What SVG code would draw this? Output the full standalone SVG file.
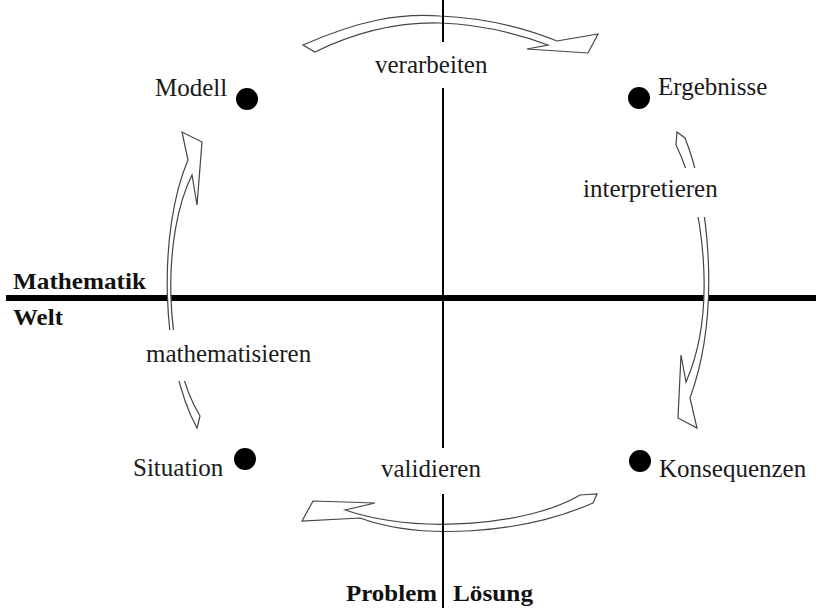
<svg xmlns="http://www.w3.org/2000/svg" width="816" height="608" viewBox="0 0 816 608">
<style>
.lbl{font-family:"Liberation Serif","Times New Roman",serif;font-size:25px;fill:#1a1a1a}
.bold{font-family:"Liberation Serif","Times New Roman",serif;font-size:23px;font-weight:bold;fill:#111}
.arrow{fill:#fff;stroke:#444;stroke-width:1.2;stroke-linejoin:miter}
.dot{fill:#000}
.bg{fill:#fff}
</style>
<rect width="816" height="608" fill="#fff"/>
<g id="axes">
<rect x="6" y="295" width="810" height="6" fill="#000"/>
</g>
<g id="connectors">
<path id="arrow-verarbeiten" class="arrow" d="M303,45 C360,20 400,13 440,16 C485,18 525,28 557,41 L598,34 L588,53 L527,49 L548,45 C515,33 480,24 440,23 C400,22 360,30 315,52 Z"/>
<path id="arrow-interpretieren" class="arrow" d="M677,132 L685,138 C708,195 722,310 690,398 L697,428 L678,418 L681,355 L686,382 C718,310 703,200 676,145 Z"/>
<path id="arrow-validieren" class="arrow" d="M580,495 L597,494 L593,503 C520,535 420,540 360,518 L302,521 L313,501 L375,503 L345,510 C420,535 530,525 580,495 Z"/>
<path id="arrow-mathematisieren" class="arrow" d="M197,428 C160,360 158,230 188,160 L182,132 L202,142 L197,205 L192,175 C162,235 163,355 200,416 Z"/>
</g>
<g id="vline">
<rect x="442" y="0" width="2" height="608" fill="#000"/>
</g>
<g id="label-bgs">
<rect class="bg" x="368" y="42" width="128" height="46"/>
<rect class="bg" x="376" y="448" width="112" height="46"/>
<rect class="bg" x="580" y="168" width="144" height="49"/>
<rect class="bg" x="143" y="330" width="174" height="51"/>
</g>
<g id="node-modell"><circle class="dot" cx="247" cy="99" r="11"/><text class="lbl" x="155" y="96">Modell</text></g>
<g id="node-ergebnisse"><circle class="dot" cx="639" cy="98" r="11"/><text class="lbl" x="658" y="95">Ergebnisse</text></g>
<g id="node-situation"><circle class="dot" cx="245" cy="459" r="11"/><text class="lbl" x="133" y="476">Situation</text></g>
<g id="node-konsequenzen"><circle class="dot" cx="640" cy="461" r="11"/><text class="lbl" x="659" y="477">Konsequenzen</text></g>
<g id="labels">
<text class="lbl" x="375" y="73">verarbeiten</text>
<text class="lbl" x="583" y="197">interpretieren</text>
<text class="lbl" x="146" y="362">mathematisieren</text>
<text class="lbl" x="381" y="477">validieren</text>
<text class="bold" x="13" y="289" textLength="133" lengthAdjust="spacingAndGlyphs">Mathematik</text>
<text class="bold" x="13" y="325" textLength="50" lengthAdjust="spacingAndGlyphs">Welt</text>
<text class="bold" x="346" y="601" textLength="91" lengthAdjust="spacingAndGlyphs">Problem</text>
<text class="bold" x="453" y="601" textLength="80" lengthAdjust="spacingAndGlyphs">Lösung</text>
</g>
</svg>
